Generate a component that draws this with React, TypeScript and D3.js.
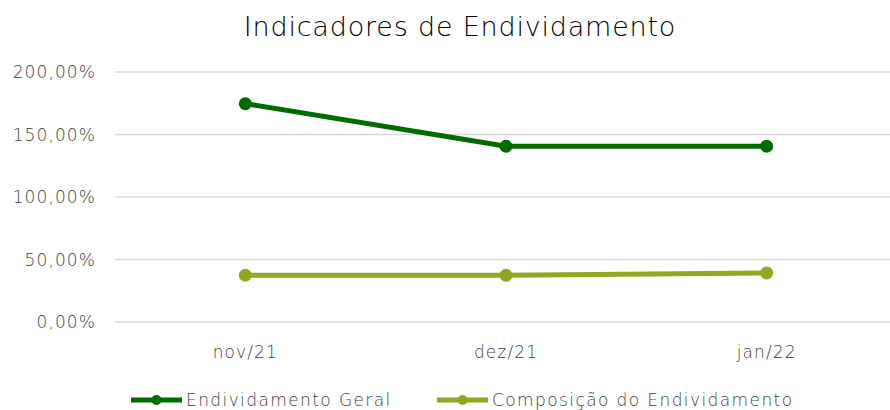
import React from "react";
import * as d3 from "d3";

const categories = ["nov/21", "dez/21", "jan/22"];
const endividamentoGeral = [174.7, 140.6, 140.6];
const composicaoEndividamento = [37.4, 37.4, 39.2];
const yTicks = [0, 50, 100, 150, 200];
const seriesNames = ["Endividamento Geral", "Composição do Endividamento"];
const seriesColors = ["#006B00", "#8FAA22"];

const W = 890;
const H = 410;
const margin = { left: 115, right: -7, top: 72, bottom: 88 };
const FONT = "'DejaVu Sans', sans-serif";
const LABEL = "#3f3f3f";

export default function App() {
  const x = d3
    .scaleBand<string>()
    .domain(categories)
    .range([margin.left, W - margin.right])
    .padding(0);
  const y = d3.scaleLinear().domain([0, 200]).range([H - margin.bottom, margin.top]);
  const fmt = (v: number) => v.toFixed(2).replace(".", ",") + "%";
  const cx = (c: string) => (x(c) as number) + x.bandwidth() / 2;
  const line = d3
    .line<number>()
    .x((_, i) => cx(categories[i]))
    .y((d) => y(d));
  const series = [endividamentoGeral, composicaoEndividamento];
  const legendX = [131, 437];

  return (
    <svg
      width={W}
      height={H}
      style={{ position: "absolute", left: 0, top: 0, background: "#fff" }}
      fontFamily={FONT}
    >
      <text x={460} y={36} textAnchor="middle" fontSize={27} fill="#000" fontWeight={200} letterSpacing={0.8}>
        Indicadores de Endividamento
      </text>
      {yTicks.map((t) => (
        <g key={t}>
          <line x1={margin.left} x2={W - margin.right} y1={y(t)} y2={y(t)} stroke="#d9d9d9" strokeWidth={1.5} />
          <text x={96} y={y(t) + 6} textAnchor="end" fontSize={17} fill={LABEL} fontWeight={200} letterSpacing={1.1}>
            {fmt(t)}
          </text>
        </g>
      ))}
      {categories.map((c) => (
        <text key={c} x={cx(c)} y={358} textAnchor="middle" fontSize={17} fill={LABEL} fontWeight={200} letterSpacing={1.1}>
          {c}
        </text>
      ))}
      {series.map((s, si) => (
        <g key={si}>
          <path d={line(s) || ""} fill="none" stroke={seriesColors[si]} strokeWidth={5} strokeLinecap="round" />
          {s.map((v, i) => (
            <circle key={i} cx={cx(categories[i])} cy={y(v)} r={6.5} fill={seriesColors[si]} />
          ))}
        </g>
      ))}
      {seriesNames.map((n, si) => (
        <g key={n}>
          <line x1={legendX[si]} x2={legendX[si] + 51} y1={400} y2={400} stroke={seriesColors[si]} strokeWidth={5} />
          <circle cx={legendX[si] + 25.5} cy={400} r={5} fill={seriesColors[si]} />
          <text x={legendX[si] + 55} y={406} fontSize={17} fill={LABEL} fontWeight={200} letterSpacing={1.4}>
            {n}
          </text>
        </g>
      ))}
    </svg>
  );
}
